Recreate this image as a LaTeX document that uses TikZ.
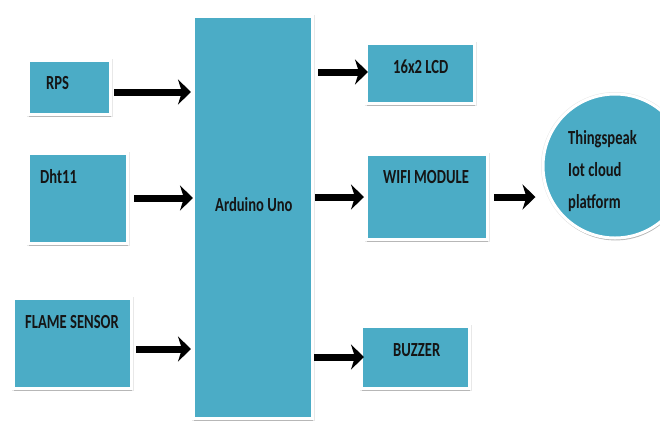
\documentclass[tikz,border=0pt]{standalone}
\usepackage{fontspec}
\usepackage{graphicx}
\newfontfamily\carl{Carlito}
\usetikzlibrary{arrows.meta,shadows}
\definecolor{boxblue}{HTML}{4BACC6}
\definecolor{txt}{HTML}{151515}
\newcommand{\sqz}[1]{\scalebox{0.73}[1]{#1}}
\tikzset{
  blk/.style={fill=boxblue, draw=white, line width=3pt, rectangle, inner sep=0pt,
    preaction={draw=gray!18, line width=4pt},
    drop shadow={shadow xshift=0.6pt, shadow yshift=-2.4pt, fill=gray!60, opacity=0.9}},
  lbl/.style={anchor=base west, inner sep=0pt, text=txt, font=\carl\bfseries\fontsize{20}{23}\selectfont},
  bigarrow/.style={line width=7pt, -{Stealth[length=13pt,width=25pt,inset=4pt]}, black}
}
\begin{document}
\begin{tikzpicture}[x=1pt,y=-1pt]
\useasboundingbox (0,0) rectangle (660,421);
\clip (0,0) rectangle (660,421);
% boxes (size = blue area + 3)
\node[blk, minimum width=82pt, minimum height=54pt] (rps) at (69.5,87.5) {};
\node[blk, minimum width=99pt, minimum height=90pt] (dht) at (78,198.5) {};
\node[blk, minimum width=118pt, minimum height=90pt] (flame) at (72.5,343.5) {};
\node[blk, minimum width=119pt, minimum height=402pt] (ard) at (253,217.5) {};
\node[blk, minimum width=108pt, minimum height=60pt] (lcd) at (420.5,73.5) {};
\node[blk, minimum width=121pt, minimum height=85pt] (wifi) at (427,197) {};
\node[blk, minimum width=108pt, minimum height=62pt] (buz) at (415.5,357.5) {};
\node[blk, circle, minimum size=144pt] (cloud) at (615,166) {};
% labels
\node[lbl] (rpsT) at (46,89) {\sqz{RPS}};
\node[lbl] (dhtT) at (40,183) {\sqz{Dht11}};
\node[lbl] (flameT) at (25,328) {\sqz{FLAME SENSOR}};
\node[lbl] (ardT) at (215,211) {\sqz{Arduino Uno}};
\node[lbl] (lcdT) at (393,73) {\sqz{16x2 LCD}};
\node[lbl] (wifiT) at (383,183) {\sqz{WIFI MODULE}};
\node[lbl] (buzT) at (393,356) {\sqz{BUZZER}};
\node[lbl] (cl1) at (568,144) {\sqz{Thingspeak}};
\node[lbl] (cl2) at (568,176) {\sqz{Iot cloud}};
\node[lbl] (cl3) at (568,208) {\sqz{platform}};
% arrows
\draw[bigarrow] ([xshift=2pt]rps.east |- 0,92) -- ([xshift=-1pt]ard.west |- 0,92);
\draw[bigarrow] ([xshift=5pt]dht.east |- 0,198) -- ([xshift=1pt]ard.west |- 0,198);
\draw[bigarrow] ([xshift=3pt]flame.east |- 0,349) -- ([xshift=-1pt]ard.west |- 0,349);
\draw[bigarrow] ([xshift=4pt]ard.east |- 0,72) -- ([xshift=3pt]lcd.west |- 0,72);
\draw[bigarrow] ([xshift=1pt]ard.east |- 0,197) -- ([xshift=-1pt]wifi.west |- 0,197);
\draw[bigarrow] (ard.east |- 0,357) -- ([xshift=4pt]buz.west |- 0,357);
\draw[bigarrow] ([xshift=5pt]wifi.east |- 0,197) -- ([xshift=-6pt]cloud.west |- 0,197);
\end{tikzpicture}
\end{document}
